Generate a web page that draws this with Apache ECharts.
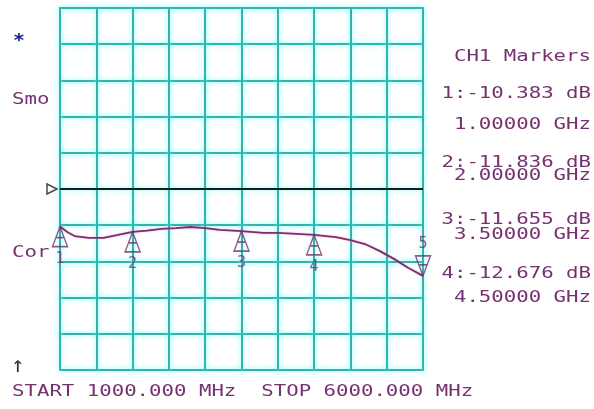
<!DOCTYPE html>
<html>
<head>
<meta charset="utf-8">
<script src="https://cdn.jsdelivr.net/npm/echarts@6/dist/echarts.min.js"></script>
<style>html,body{margin:0;padding:0;background:#fff}#c{width:594px;height:409px}</style>
</head>
<body>
<div id="c"></div>
<script>
// ---- data ----
var freqMHz = [1000,1100,1200,1400,1600,1800,2000,2200,2400,2600,2800,3000,3200,3500,3800,4000,4200,4500,4800,5000,5200,5400,5600,5800,6000];
var traceDb = [-10.383,-11.9,-13.0,-13.5,-13.5,-12.7,-11.836,-11.5,-11.0,-10.8,-10.5,-10.8,-11.3,-11.655,-12.1,-12.1,-12.3,-12.676,-13.3,-14.1,-15.2,-17.1,-19.3,-21.8,-24.0];
var markerNames = ['1','2','3','4','5'];
var markerFreqMHz = [1000,2000,3500,4500,6000];
var markerDb = [-10.383,-11.836,-11.655,-12.676,-24.0];
var refLevelDb = 0;
var startMHz = 1000, stopMHz = 6000;
var markerTexts = ['CH1 Markers','1:-10.383 dB','1.00000 GHz','2:-11.836 dB','2.00000 GHz','3:-11.655 dB','3.50000 GHz','4:-12.676 dB','4.50000 GHz'];
var leftTexts = ['*','Smo','Cor','\u2191'];
var bottomText = 'START 1000.000 MHz  STOP 6000.000 MHz';

// ---- styles ----
var PURPLE = '#76316f';
var FONT = '"DejaVu Sans Mono", monospace';
var chart = echarts.init(document.getElementById('c'));

var trace = freqMHz.map(function(f,i){return [f, traceDb[i]];});
var upMarkers = [], downMarkers = [];
markerFreqMHz.forEach(function(f,i){
  var d = {value:[f, markerDb[i]], name: markerNames[i]};
  if (i === markerFreqMHz.length-1) downMarkers.push(d); else upMarkers.push(d);
});

function txt(text, x, y, opts){
  opts = opts || {};
  return {
    type:'text', x:x, y:y, scaleX: opts.sx || 1.38, silent:true, z:100,
    style:{text:text, x:0, y:0, fill: opts.fill || PURPLE,
      font: (opts.weight||'normal')+' '+(opts.size||15)+'px '+FONT,
      textAlign: opts.align||'left', textVerticalAlign:'middle'}
  };
}
var rightY = [57,94,125,163,176,220,235,274,298];
var graphics = [];
markerTexts.forEach(function(t,i){ graphics.push(txt(t, 591, rightY[i], {align:'right'})); });
graphics.push(txt(leftTexts[0], 13, 41, {fill:'#1c1c8c', size:18, weight:'bold', sx:1.1}));
graphics.push(txt(leftTexts[1], 12, 100));
graphics.push(txt(leftTexts[2], 12, 253));
graphics.push(txt(leftTexts[3], 11, 366, {fill:'#333', size:22, sx:1.0}));
graphics.push(txt(bottomText, 12, 392));

var gridLine = {color:'#33b3aa', width:2, shadowColor:'rgba(90,255,255,0.9)', shadowBlur:5};

chart.setOption({
  animation:false,
  backgroundColor:'#ffffff',
  grid:{left:60, top:8, width:363, height:362, show:true, borderColor:'#33b3aa', borderWidth:2},
  xAxis:{type:'value', min:startMHz, max:stopMHz, interval:500,
    axisLine:{show:false}, axisTick:{show:false}, axisLabel:{show:false},
    splitLine:{show:true, lineStyle:gridLine}},
  yAxis:{type:'value', min:-50, max:50, interval:10,
    axisLine:{show:false}, axisTick:{show:false}, axisLabel:{show:false},
    splitLine:{show:true, lineStyle:gridLine}},
  graphic: graphics,
  series:[
    {type:'line', data:[[startMHz,refLevelDb],[stopMHz,refLevelDb]], symbol:'none',
     lineStyle:{color:'#1a1a1a', width:2}, z:5},
    {type:'scatter', data:[[startMHz,refLevelDb]], symbol:'path://M0,0 L10,5 L0,10 Z',
     symbolSize:[10,10], symbolOffset:[-8,0], clip:false,
     itemStyle:{color:'rgba(0,0,0,0)', borderColor:'#1a1a1a', borderWidth:1.5}, z:6},
    {type:'line', data:trace, symbol:'none', smooth:false,
     lineStyle:{color:'#7a2e6a', width:1.8, shadowColor:'rgba(255,120,200,0.6)', shadowBlur:2}, z:7},
    {type:'scatter', data:upMarkers, symbol:'path://M7,0 L0,20 L14,20 Z M3.5,11 L10.5,11',
     symbolSize:[15,20], symbolOffset:[0,10], clip:false,
     itemStyle:{color:'rgba(0,0,0,0)', borderColor:PURPLE, borderWidth:1.5},
     label:{show:true, position:'bottom', distance:4, formatter:'{b}', color:PURPLE,
       fontFamily:'DejaVu Sans Mono', fontSize:15}, z:8},
    {type:'scatter', data:downMarkers, symbol:'path://M0,0 L14,0 L7,20 Z M3.5,9 L10.5,9',
     symbolSize:[15,20], symbolOffset:[0,-10], clip:false,
     itemStyle:{color:'rgba(0,0,0,0)', borderColor:PURPLE, borderWidth:1.5},
     label:{show:true, position:'top', distance:3, formatter:'{b}', color:PURPLE,
       fontFamily:'DejaVu Sans Mono', fontSize:15}, z:8}
  ]
});
</script>
</body>
</html>
